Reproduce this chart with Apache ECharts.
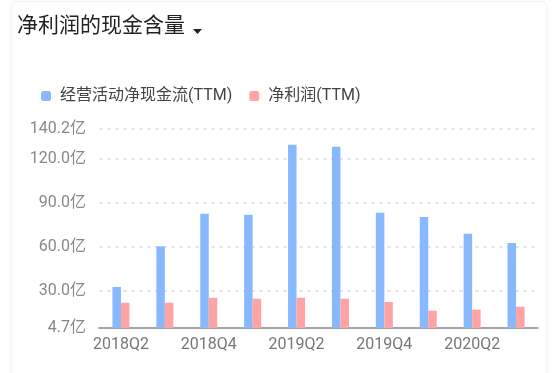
<!DOCTYPE html>
<html>
<head>
<meta charset="utf-8">
<script src="https://cdn.jsdelivr.net/npm/echarts@6/dist/echarts.min.js"></script>
<style>
html,body{margin:0;padding:0;background:#fff;}
#card{position:absolute;left:12px;top:2px;width:534px;height:390px;border-radius:5px;box-shadow:0 0 3px rgba(0,0,0,0.12);background:#fff;}
#main{position:absolute;left:0;top:0;width:555px;height:373px;}
</style>
</head>
<body>
<div id="card"></div>
<div id="main"></div>
<script>
var categories = ['2018Q2','2018Q3','2018Q4','2019Q1','2019Q2','2019Q3','2019Q4','2020Q1','2020Q2','2020Q3'];
var cashFlow = [32.6, 60.3, 82.5, 81.8, 129.5, 128.1, 83.2, 80.3, 68.9, 62.6];
var netProfit = [21.9, 21.9, 25.3, 24.6, 25.3, 24.6, 22.4, 16.5, 17.2, 19.2];
var yTicks = [4.7, 30, 60, 90, 120, 140.2];
var seriesNames = ['经营活动净现金流(TTM)', '净利润(TTM)'];

var chart = echarts.init(document.getElementById('main'), null, {renderer:'canvas'});
var font = 'Roboto, "Noto Sans CJK SC", sans-serif';
chart.setOption({
  animation: false,
  title: {
    text: '净利润的现金含量',
    left: 17, top: 16, padding: 0,
    textStyle: {fontSize: 21, fontWeight: 'normal', color: '#222', fontFamily: font}
  },
  graphic: [{
    type: 'polygon',
    shape: {points: [[193,29],[202,29],[197.5,34]]},
    style: {fill: '#222'}
  }],
  legend: {
    left: 41, top: 88, padding: 0,
    itemWidth: 10, itemHeight: 10, itemGap: 17,
    icon: 'roundRect',
    textStyle: {fontSize: 16, color: '#444', fontFamily: font, padding: [0,0,0,4]},
    data: seriesNames
  },
  grid: {left: 99, right: 17, top: 129, bottom: 45},
  xAxis: {
    type: 'category',
    data: categories,
    axisLine: {lineStyle: {color: '#8a8a8a', width: 1.5}},
    axisTick: {interval: 0, length: 6, lineStyle: {color: '#8a8a8a', width: 1.5}},
    axisLabel: {interval: 1, fontSize: 16, color: '#777', margin: 9, fontFamily: font}
  },
  yAxis: {
    type: 'value',
    min: yTicks[0], max: yTicks[yTicks.length-1],
    axisLine: {show: false},
    axisTick: {show: false, customValues: yTicks},
    axisLabel: {
      customValues: yTicks,
      fontSize: 16, color: '#888', margin: 13, fontFamily: font,
      formatter: function (v) { return v.toFixed(1) + '亿'; }
    },
    splitLine: {lineStyle: {color: '#e0e0e0', type: [4, 4], width: 1.5}}
  },
  series: [{
    name: seriesNames[0], type: 'bar', data: cashFlow,
    barWidth: 8.5, barGap: '0%',
    itemStyle: {color: '#88b8fd'}
  }, {
    name: seriesNames[1], type: 'bar', data: netProfit,
    barWidth: 8.5,
    itemStyle: {color: '#ffa3a4'}
  }]
});
</script>
</body>
</html>
